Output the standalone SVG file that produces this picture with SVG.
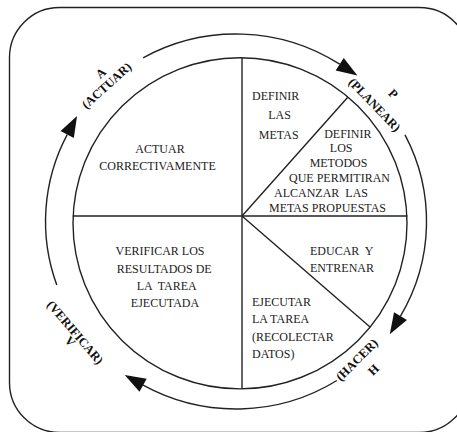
<svg xmlns="http://www.w3.org/2000/svg" width="457" height="432" viewBox="0 0 457 432">
<style>
.ln{fill:none;stroke:#222;stroke-width:1.4}
.t{font-family:"Liberation Serif","Times New Roman",serif;font-size:12px;fill:#222;white-space:pre}
.m{text-anchor:middle}
.lb{font-family:"Liberation Serif","Times New Roman",serif;font-size:12.5px;font-weight:bold;fill:#111;text-anchor:middle;white-space:pre}
</style>
<defs>
<marker id="ah" markerUnits="userSpaceOnUse" viewBox="0 -8 22 16" refX="0" refY="0" markerWidth="22" markerHeight="16" orient="auto" overflow="visible">
<path d="M0,-7.5 L21,0 L0,7.5 z" fill="#111"/>
</marker>
</defs>
<rect width="457" height="432" fill="#fff"/>
<g id="frame"><rect x="9.5" y="7.5" width="460" height="425" rx="50" ry="50" class="ln"/></g>
<g id="wheel">
<ellipse cx="240" cy="223.3" rx="167" ry="165.6" class="ln"/>
<line x1="242" y1="57.7" x2="242" y2="389" class="ln"/>
<line x1="72.7" y1="216" x2="407.5" y2="216" class="ln"/>
<line x1="242" y1="216" x2="348" y2="97" class="ln"/>
<line x1="242" y1="216" x2="370" y2="327" class="ln"/>
</g>
<g id="connectors">
<path d="M143.1,57.8 A190.5,187.5 0 0 1 339.7,64.2" class="ln" marker-end="url(#ah)"/>
<path d="M405,134.9 A190.5,187.5 0 0 1 400.5,316.1" class="ln" marker-end="url(#ah)"/>
<path d="M336.9,380.5 A190.5,187.5 0 0 1 143.1,385.2" class="ln" marker-end="url(#ah)"/>
<path d="M56.8,285 A190.5,187.5 0 0 1 67.2,134.6" class="ln" marker-end="url(#ah)"/>
</g>
<g id="actuar">
<text class="lb" transform="translate(103.7,76.3) rotate(-42)">A</text>
<text class="lb" transform="translate(109.4,88.7) rotate(-42)">(ACTUAR)</text>
<text class="t m" transform="translate(160,153) scale(1,1.12)">ACTUAR</text>
<text class="t m" transform="translate(157.5,170) scale(1,1.12)">CORRECTIVAMENTE</text>
</g>
<g id="planear">
<text class="lb" transform="translate(390.1,96.8) rotate(46)">P</text>
<text class="lb" transform="translate(371.6,107.8) rotate(46)">(PLANEAR)</text>
<text class="t m" transform="translate(275.7,100) scale(1,1.12)">DEFINIR</text>
<text class="t m" transform="translate(279.5,119.3) scale(1,1.12)">LAS</text>
<text class="t m" transform="translate(278.7,139.3) scale(1,1.12)">METAS</text>
<text class="t m" transform="translate(347.8,137.5) scale(1,1.12)">DEFINIR</text>
<text class="t m" transform="translate(341.2,152.3) scale(1,1.12)">LOS</text>
<text class="t m" transform="translate(338.5,167) scale(1,1.12)">METODOS</text>
<text class="t m" transform="translate(339.5,181.8) scale(1,1.12)">QUE PERMITIRAN</text>
<text class="t m" transform="translate(321,196.7) scale(1,1.12)">ALCANZAR  LAS</text>
<text class="t m" transform="translate(327.5,211.7) scale(1,1.12)">METAS PROPUESTAS</text>
</g>
<g id="hacer">
<text class="lb" transform="translate(359.8,362.8) rotate(-45)">(HACER)</text>
<text class="lb" transform="translate(376.5,372.8) rotate(-45)">H</text>
<text class="t" transform="translate(310,255) scale(1,1.12)">EDUCAR  Y</text>
<text class="t" transform="translate(310,271.7) scale(1,1.12)">ENTRENAR</text>
<text class="t" transform="translate(252,305.7) scale(1,1.12)">EJECUTAR</text>
<text class="t" transform="translate(252,323.3) scale(1,1.12)">LA TAREA</text>
<text class="t" transform="translate(252,340.7) scale(1,1.12)">(RECOLECTAR</text>
<text class="t" transform="translate(252,358.3) scale(1,1.12)">DATOS)</text>
</g>
<g id="verificar">
<text class="lb" transform="translate(72,335.1) rotate(49.4)">(VERIFICAR)</text>
<text class="lb" transform="translate(67,344.3) rotate(49.4)">V</text>
<text class="t m" transform="translate(160,255) scale(1,1.12)">VERIFICAR LOS</text>
<text class="t m" transform="translate(164.2,273.3) scale(1,1.12)">RESULTADOS DE</text>
<text class="t m" transform="translate(166.7,290) scale(1,1.12)">LA  TAREA</text>
<text class="t m" transform="translate(165,306.7) scale(1,1.12)">EJECUTADA</text>
</g>
</svg>
